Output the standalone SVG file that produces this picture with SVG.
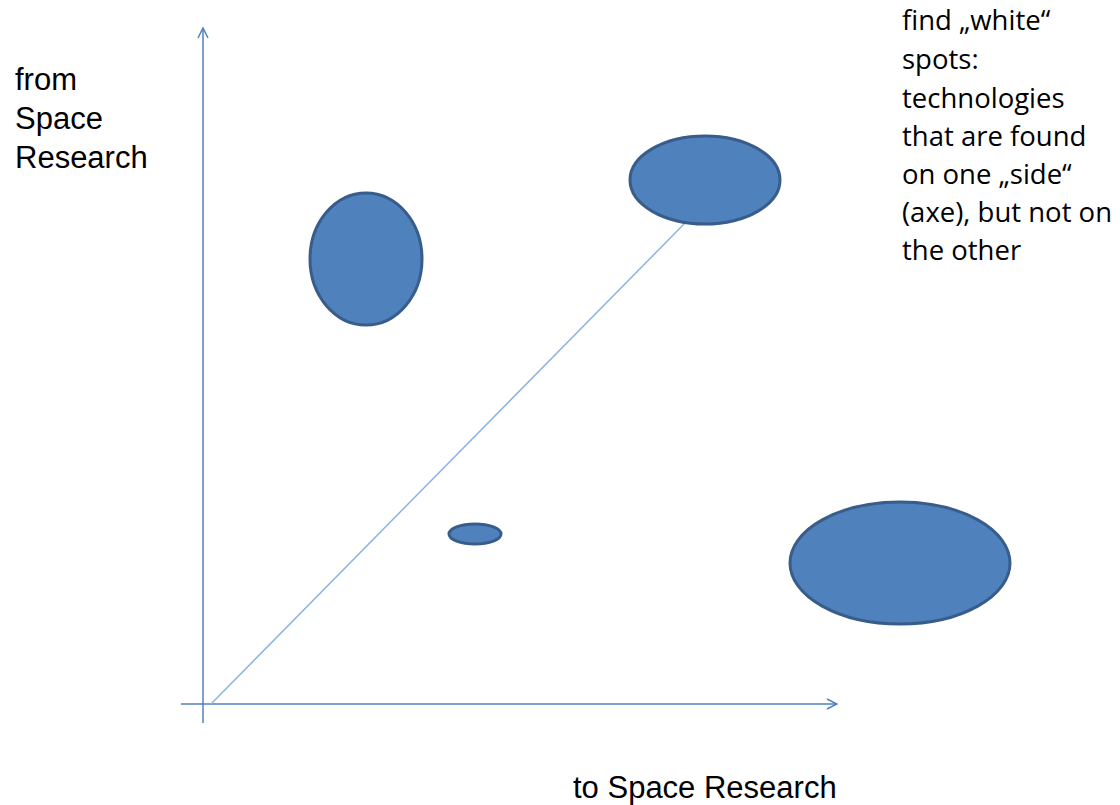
<svg xmlns="http://www.w3.org/2000/svg" width="1120" height="805" viewBox="0 0 1120 805">
<style>
.axis{stroke:#4F81BD;stroke-width:1.5;fill:none}
.diag{stroke:#8EB4E3;stroke-width:1.5;fill:none}
.blob{fill:#4F81BD;stroke:#385D8A;stroke-width:3}
.lbl{font-family:"Liberation Sans",Arial,sans-serif;font-size:31px;fill:#000}
.note{font-family:"Open Sans","Liberation Sans",sans-serif;font-size:27.5px;fill:#000}
</style>
<defs>
<marker id="arr" viewBox="0 0 12 12" refX="11" refY="6" markerWidth="12" markerHeight="12" markerUnits="userSpaceOnUse" orient="auto">
<path d="M1,1 L11,6 L1,11" fill="none" stroke="#4F81BD" stroke-width="1.5"/>
</marker>
</defs>
<rect width="1120" height="805" fill="#fff"/>
<g id="connectors">
<line class="axis" x1="203" y1="723" x2="203" y2="28" marker-end="url(#arr)"/>
<line class="axis" x1="181" y1="704" x2="837" y2="704" marker-end="url(#arr)"/>
<line class="diag" x1="211" y1="704" x2="686" y2="222"/>
</g>
<g id="blob1"><ellipse class="blob" cx="366" cy="259" rx="56" ry="66"/></g>
<g id="blob2"><ellipse class="blob" cx="705" cy="180" rx="75" ry="44"/></g>
<g id="blob3"><ellipse class="blob" cx="475" cy="534" rx="26" ry="10"/></g>
<g id="blob4"><ellipse class="blob" cx="900" cy="563" rx="110" ry="61"/></g>
<g id="ylabel"><text class="lbl" x="15" y="90">from</text><text class="lbl" x="15" y="129">Space</text><text class="lbl" x="15" y="168">Research</text></g>
<g id="xlabel"><text class="lbl" x="573" y="798">to Space Research</text></g>
<g id="note">
<text class="note" x="902" y="30">find „white“</text>
<text class="note" x="902" y="69">spots:</text>
<text class="note" x="902" y="108">technologies</text>
<text class="note" x="902" y="146">that are found</text>
<text class="note" x="902" y="184">on one „side“</text>
<text class="note" x="902" y="222">(axe), but not on</text>
<text class="note" x="902" y="260">the other</text>
</g>
</svg>
